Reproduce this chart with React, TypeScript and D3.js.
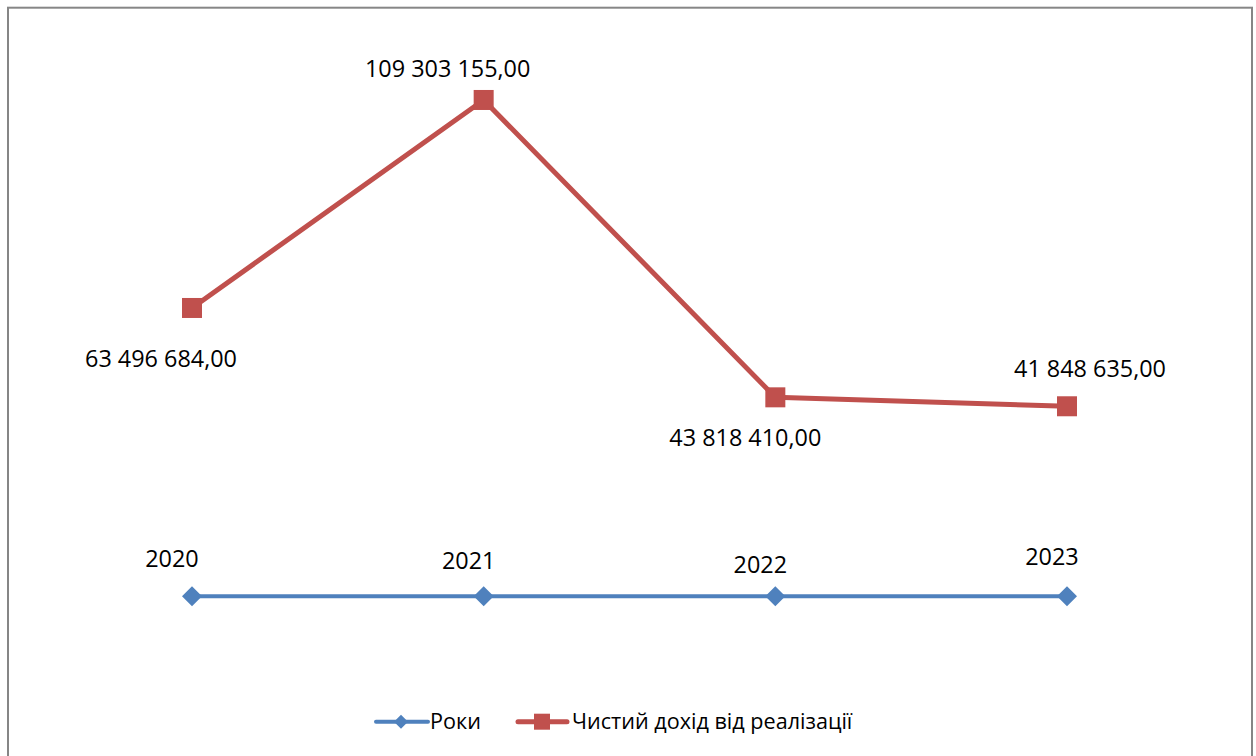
import React from "react";
import * as d3 from "d3";

const categories = ["2020", "2021", "2022", "2023"];
const yearValues = [2020, 2021, 2022, 2023];
const revenueValues = [63496684.0, 109303155.0, 43818410.0, 41848635.0];
const seriesNames = ["Роки", "Чистий дохід від реалізації"];

// label offsets relative to the point (layout only)
const yearLabelOffsets: [number, number][] = [[-20, -29], [-15, -27], [-15, -23], [-15, -31]];
const revLabelOffsets: [number, number][] = [[-31, 59], [-36, -23], [-30, 49], [23, -29]];

const BLUE = "#4F81BD";
const RED = "#C0504D";
const FONT = "'Open Sans', Calibri, sans-serif";

const locale = d3.formatLocale({ decimal: ",", thousands: " ", grouping: [3], currency: ["", ""] });
const fmt = locale.format(",.2f");

export default function App() {
  const x = d3.scalePoint<string>().domain(categories).range([192, 1067]);
  const y = d3.scaleLinear().domain([0, 120000000]).range([596.3, 51.4]);
  const line = d3
    .line<number>()
    .x((_, i) => x(categories[i]) as number)
    .y((d) => y(d));

  const diamond = (cx: number, cy: number, r: number) =>
    `M${cx},${cy - r}L${cx + r},${cy}L${cx},${cy + r}L${cx - r},${cy}Z`;

  return (
    <div style={{ position: "fixed", left: 0, top: 0, width: 1256, height: 756, overflow: "hidden", background: "#fff" }}>
      <svg width={1256} height={756} style={{ display: "block" }}>
        <rect x={8} y={7.7} width={1244} height={800} fill="#fff" stroke="#868686" strokeWidth={2} />
        {/* Роки series */}
        <path d={line(yearValues) || ""} fill="none" stroke={BLUE} strokeWidth={4} strokeLinejoin="round" />
        {yearValues.map((v, i) => (
          <path key={"d" + i} d={diamond(x(categories[i]) as number, y(v), 10)} fill={BLUE} />
        ))}
        {/* revenue series */}
        <path d={line(revenueValues) || ""} fill="none" stroke={RED} strokeWidth={5} strokeLinejoin="round" />
        {revenueValues.map((v, i) => (
          <rect key={"s" + i} x={(x(categories[i]) as number) - 10} y={y(v) - 10} width={20} height={20} fill={RED} />
        ))}
        <g fontFamily={FONT} fontSize={23.4} fill="#000" textAnchor="middle">
          {yearValues.map((v, i) => (
            <text key={"yl" + i} x={(x(categories[i]) as number) + yearLabelOffsets[i][0]} y={y(v) + yearLabelOffsets[i][1]}>
              {String(v)}
            </text>
          ))}
          {revenueValues.map((v, i) => (
            <text key={"rl" + i} x={(x(categories[i]) as number) + revLabelOffsets[i][0]} y={y(v) + revLabelOffsets[i][1]}>
              {fmt(v)}
            </text>
          ))}
        </g>
        {/* legend */}
        <g fontFamily={FONT} fontSize={21.6} fill="#000">
          <line x1={376} x2={428} y1={721.7} y2={721.7} stroke={BLUE} strokeWidth={4} strokeLinecap="round" />
          <path d={diamond(401, 721.7, 7)} fill={BLUE} />
          <text x={430} y={729}>{seriesNames[0]}</text>
          <line x1={518} x2={567} y1={721.7} y2={721.7} stroke={RED} strokeWidth={5} strokeLinecap="round" />
          <rect x={534} y={713.7} width={16} height={16} fill={RED} />
          <text x={572} y={729}>{seriesNames[1]}</text>
        </g>
      </svg>
    </div>
  );
}
